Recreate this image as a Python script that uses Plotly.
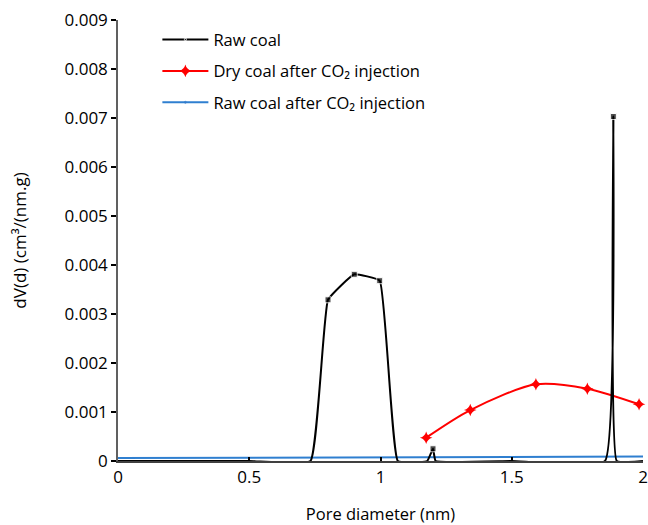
import plotly.graph_objects as go

# Raw coal
raw_x = [0.0, 0.5, 0.733, 0.80, 0.90, 0.997, 1.066, 1.178, 1.20, 1.21, 1.5, 1.855, 1.887, 1.90, 2.0]
raw_y = [0.0, 0.0, 0.0, 0.00329, 0.00381, 0.00368, 0.0, 0.0, 0.00025, 0.0, 0.0, 0.0, 0.00703, 0.0, 0.0]

# Dry coal after CO2 injection
dry_x = [1.174, 1.342, 1.592, 1.788, 1.985]
dry_y = [0.000476, 0.00104, 0.001565, 0.001476, 0.001157]

# Raw coal after CO2 injection
inj_x = [0.0, 0.5, 1.0, 1.5, 2.0]
inj_y = [0.00006, 0.00007, 0.00007, 0.00008, 0.00009]

y_ticks = [0, 0.001, 0.002, 0.003, 0.004, 0.005, 0.006, 0.007, 0.008, 0.009]
y_labels = ["0", "0.001", "0.002", "0.003", "0.004", "0.005", "0.006", "0.007", "0.008", "0.009"]
x_ticks = [0, 0.5, 1, 1.5, 2]
x_labels = ["0", "0.5", "1", "1.5", "2"]

FONT = "Open Sans"

fig = go.Figure()
fig.add_trace(go.Scatter(
    x=inj_x, y=inj_y, mode="lines+markers", name="Raw coal after CO₂ injection",
    line=dict(color="#2F7FD0", width=2),
    marker=dict(symbol="circle", size=[0] * len(inj_x), color="#4472C4"),
    legendgroup="c", legendrank=3,
))
fig.add_trace(go.Scatter(
    x=dry_x, y=dry_y, mode="lines+markers", name="Dry coal after CO₂ injection",
    line=dict(color="#FF0000", width=2, shape="spline", smoothing=0.8),
    marker=dict(symbol="star-diamond", size=9, color="#FF0000"),
    legendgroup="b", legendrank=2,
))
sizes = [6 if v > 0 else 0 for v in raw_y]
fig.add_trace(go.Scatter(
    x=raw_x, y=raw_y, mode="lines+markers", name="Raw coal",
    line=dict(color="#000000", width=2, shape="spline", smoothing=0.3),
    marker=dict(symbol="square", size=sizes, color="#000000"),
    legendgroup="a", legendrank=1,
))

fig.update_layout(
    width=648, height=525,
    margin=dict(l=118, r=5, t=20, b=64),
    plot_bgcolor="white", paper_bgcolor="white",
    font=dict(family=FONT, size=16, color="#000000"),
    showlegend=True,
    legend=dict(x=0.075, y=0.995, xanchor="left", yanchor="top",
                bgcolor="rgba(0,0,0,0)", font=dict(size=16.5),
                tracegroupgap=7, itemwidth=46, traceorder="grouped"),
    xaxis=dict(range=[0, 2], tickvals=x_ticks, ticktext=x_labels,
               showgrid=False, zeroline=False, showline=True, automargin=False,
               linecolor="#404040", linewidth=1.5,
               ticks="inside", ticklen=4, tickwidth=2, tickcolor="#000000",
               tickfont=dict(size=17),
               title=dict(text="Pore diameter (nm)", standoff=23, font=dict(size=16.5))),
    yaxis=dict(range=[0, 0.009], tickvals=y_ticks, ticktext=y_labels,
               showgrid=False, zeroline=False, showline=True, automargin=False,
               linecolor="#606060", linewidth=1.5,
               ticks="outside", ticklen=5, tickwidth=1.5, tickcolor="#000000",
               tickfont=dict(size=17),
               title=dict(text="dV(d) (cm³/(nm.g)", standoff=34, font=dict(size=17))),
)
fig.update_traces(cliponaxis=False)
fig.write_html("out.html")
